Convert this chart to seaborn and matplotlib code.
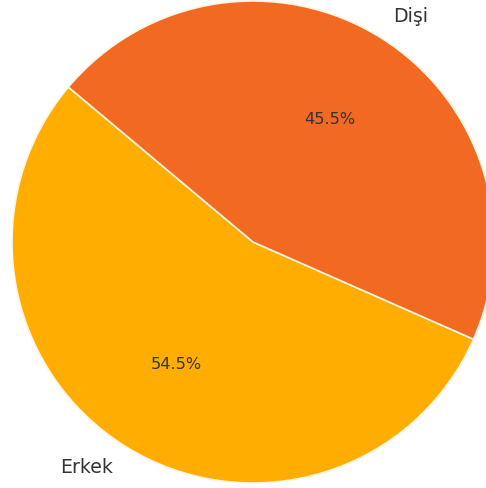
import matplotlib
matplotlib.use("Agg")
import matplotlib.pyplot as plt
import seaborn as sns

sns.set_theme(style="white")
plt.rcParams['font.family'] = ['DejaVu Sans']

labels = ["Erkek", "Dişi"]
shares = [54.5, 45.5]
colors = ["#FFAD00", "#F26A22"]

fig = plt.figure(figsize=(4.86, 4.88), dpi=100)
ax = fig.add_axes([0, 0, 1, 1])

wedges, texts, autotexts = ax.pie(
    shares,
    labels=labels,
    colors=colors,
    startangle=140,
    autopct="%1.1f%%",
    pctdistance=0.6,
    labeldistance=1.1,
    wedgeprops=dict(edgecolor="#FFF5E0", linewidth=1.2),
    textprops=dict(color="#333333"),
)
for t in texts:
    t.set_fontsize(13.6)
    t.set_color("#333333")
for t in autotexts:
    t.set_fontsize(11.6)
    t.set_color("#333333")

r = 241.0
cx, cy = 253.0, 488 - 242.0
ax.set_xlim(-cx / r, (486 - cx) / r)
ax.set_ylim(-cy / r, (488 - cy) / r)
ax.set_aspect("equal")
ax.axis("off")

fig.savefig("out.png", dpi=100)
